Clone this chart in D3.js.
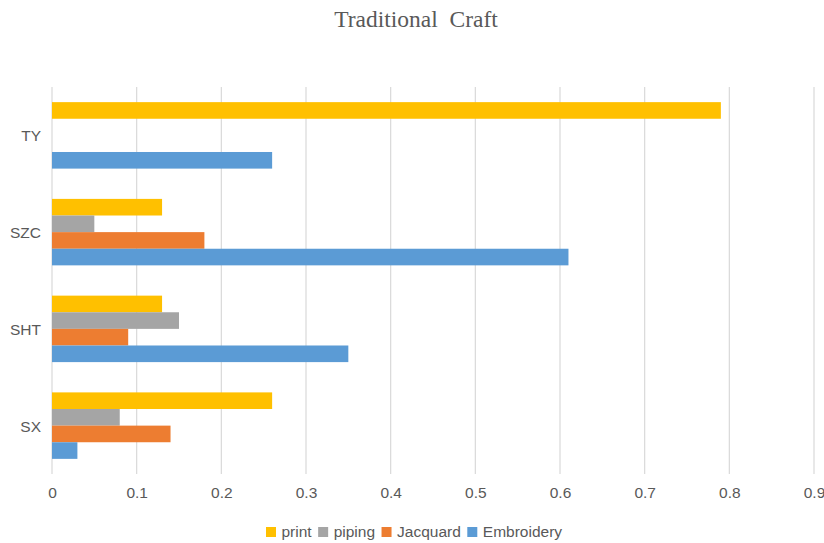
<!DOCTYPE html>
<html>
<head>
<meta charset="utf-8">
<script src="https://cdn.jsdelivr.net/npm/d3@7"></script>
<style>
  html, body { margin: 0; padding: 0; background: #fff; }
  svg { display: block; }
</style>
</head>
<body>
<div id="chart"></div>
<script>
const categories = ["TY", "SZC", "SHT", "SX"];
const seriesNames = ["print", "piping", "Jacquard", "Embroidery"];
const printValues = [0.79, 0.13, 0.13, 0.26];
const pipingValues = [0, 0.05, 0.15, 0.08];
const jacquardValues = [0, 0.18, 0.09, 0.14];
const embroideryValues = [0.26, 0.61, 0.35, 0.03];
const xTicks = [0, 0.1, 0.2, 0.3, 0.4, 0.5, 0.6, 0.7, 0.8, 0.9];
const colors = ["#FFC000", "#A5A5A5", "#ED7D31", "#5B9BD5"];

const seriesValues = [printValues, pipingValues, jacquardValues, embroideryValues];

const W = 824, H = 543;
const svg = d3.select("#chart").append("svg").attr("width", W).attr("height", H);

const x = d3.scaleLinear().domain([0, 0.9]).range([52, 814]);
const y0 = d3.scaleBand().domain(categories).range([87, 474]).paddingInner(0.313).paddingOuter(0.1565);
const y1 = d3.scaleBand().domain(seriesNames).range([0, y0.bandwidth()]);
const color = d3.scaleOrdinal().domain(seriesNames).range(colors);

const sans = "'Liberation Sans', Arial, Helvetica, sans-serif";
const txt = "#595959";
const fs = 15.5;

// title
svg.append("text")
  .attr("x", 416).attr("y", 27)
  .attr("text-anchor", "middle")
  .attr("font-family", "'Liberation Serif', 'Times New Roman', serif")
  .attr("font-size", 23.5)
  .attr("fill", txt)
  .style("white-space", "pre")
  .text("Traditional  Craft");

// gridlines
svg.append("g").selectAll("line").data(xTicks).join("line")
  .attr("x1", d => x(d)).attr("x2", d => x(d))
  .attr("y1", 87).attr("y2", 474)
  .attr("stroke", "#D9D9D9").attr("stroke-width", 1.2);

// x axis labels
const xAxis = d3.axisBottom(x).tickValues(xTicks).tickSize(0).tickPadding(0).tickFormat(d => d === 0 ? "0" : d3.format(".1f")(d));
const gx = svg.append("g").attr("transform", "translate(0,487)").call(xAxis);
gx.select(".domain").remove();
gx.selectAll("text").attr("font-family", sans).attr("font-size", fs).attr("fill", txt).attr("dy", "0.71em");

// y axis labels
const yAxis = d3.axisLeft(y0).tickSize(0).tickPadding(0);
const gy = svg.append("g").attr("transform", "translate(41,1)").call(yAxis);
gy.select(".domain").remove();
gy.selectAll("text").attr("font-family", sans).attr("font-size", fs).attr("fill", txt);

// bars
const groups = svg.append("g").selectAll("g").data(categories).join("g")
  .attr("transform", d => `translate(0,${y0(d)})`);
groups.selectAll("rect")
  .data((c, ci) => seriesNames.map((s, si) => ({ s, v: seriesValues[si][ci] })))
  .join("rect")
  .attr("x", x(0))
  .attr("y", d => y1(d.s))
  .attr("width", d => x(d.v) - x(0))
  .attr("height", y1.bandwidth())
  .attr("fill", d => color(d.s));

// legend
const legend = svg.append("g");
let lx = 266;
seriesNames.forEach(s => {
  legend.append("rect").attr("x", lx).attr("y", 527).attr("width", 10).attr("height", 10).attr("fill", color(s));
  const t = legend.append("text").attr("x", lx + 15.5).attr("y", 532).attr("dy", "0.35em")
    .attr("font-family", sans).attr("font-size", fs).attr("fill", txt).text(s);
  lx = lx + 15.5 + t.node().getComputedTextLength() + 6.5;
});
</script>
</body>
</html>
